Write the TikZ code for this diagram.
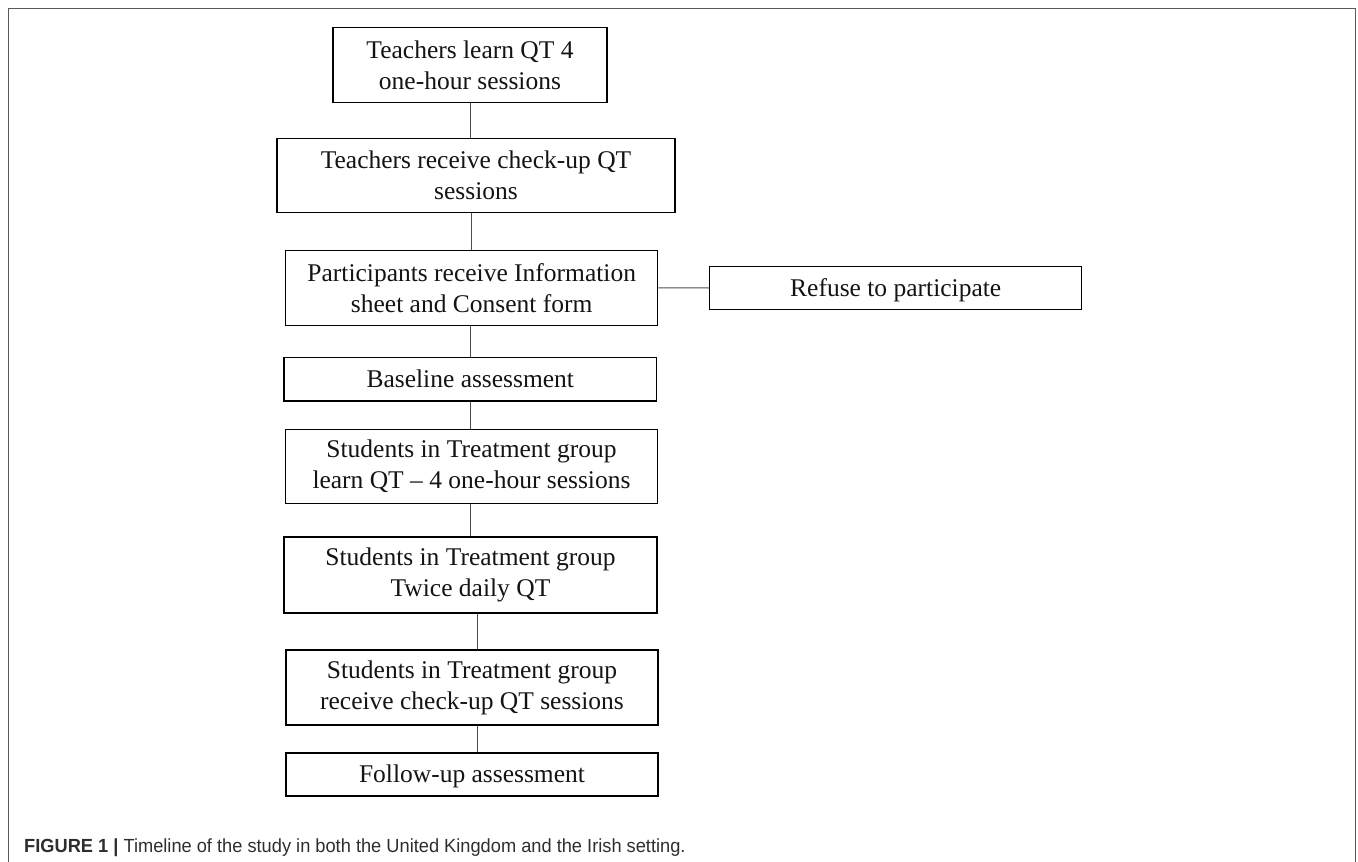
\documentclass[tikz,border=0pt]{standalone}
\usepackage{fontspec}
\setmainfont{Liberation Serif}
\newfontfamily\capfont[FakeStretch=0.96]{Liberation Sans}
\begin{document}
\begin{tikzpicture}[x=1pt,y=-1pt,
  stepbox/.style={draw=black,line width=1.3pt,inner sep=0pt,align=center,
    font=\fontsize{25.5}{31}\selectfont,text=black!92},
  onebox/.style={stepbox,text height=19pt,text depth=3pt},
  conn/.style={draw=black!70,line width=1pt}]
\useasboundingbox (0,0) rectangle (1358,862);
% outer frame
\draw[black!65,line width=1.6pt] (8.3,870) -- (8.3,8.5) -- (1355.5,8.5) -- (1355.5,870);
% boxes
\node[stepbox,minimum width=274pt,minimum height=75pt] (b1) at (470,64.8) {Teachers learn QT 4\\one-hour sessions};
\node[stepbox,minimum width=398pt,minimum height=74pt] (b2) at (476,175.5) {Teachers receive check-up QT\\sessions};
\node[stepbox,minimum width=372pt,minimum height=75pt] (b3) at (471.7,287.8) {Participants receive Information\\sheet and Consent form};
\node[onebox,minimum width=372pt,minimum height=42.6pt] (b4) at (895.7,288) {Refuse to participate};
\node[onebox,minimum width=372.7pt,minimum height=43.7pt] (b5) at (470.3,379.1) {Baseline assessment};
\node[stepbox,minimum width=371.5pt,minimum height=74pt] (b6) at (471.5,466.5) {Students in Treatment group\\learn QT -- 4 one-hour sessions};
\node[stepbox,minimum width=373pt,minimum height=76pt] (b7) at (470.5,575) {Students in Treatment group\\Twice daily QT};
\node[stepbox,minimum width=372pt,minimum height=75pt] (b8) at (472,687.5) {Students in Treatment group\\receive check-up QT sessions};
\node[onebox,minimum width=372pt,minimum height=43pt] (b9) at (472,774.5) {Follow-up assessment};
% connectors
\draw[conn] (b1.south -| 470,0) -- (b2.north -| 470,0);
\draw[conn] (b2.south -| 471,0) -- (b3.north -| 471,0);
\draw[conn] (b3.south -| 470,0) -- (b5.north -| 470,0);
\draw[conn] (b5.south -| 470,0) -- (b6.north -| 470,0);
\draw[conn] (b6.south -| 470,0) -- (b7.north -| 470,0);
\draw[conn] (b7.south -| 477,0) -- (b8.north -| 477,0);
\draw[conn] (b8.south -| 477,0) -- (b9.north -| 477,0);
\draw[conn] (b3.east) -- (b4.west);
% caption
\node[anchor=base west,inner sep=0pt,text=black!82,font=\capfont\fontsize{19}{22}\selectfont] (cap) at (24,852.3) {\textbf{FIGURE 1 |} Timeline of the study in both the United Kingdom and the Irish setting.};
\end{tikzpicture}
\end{document}
